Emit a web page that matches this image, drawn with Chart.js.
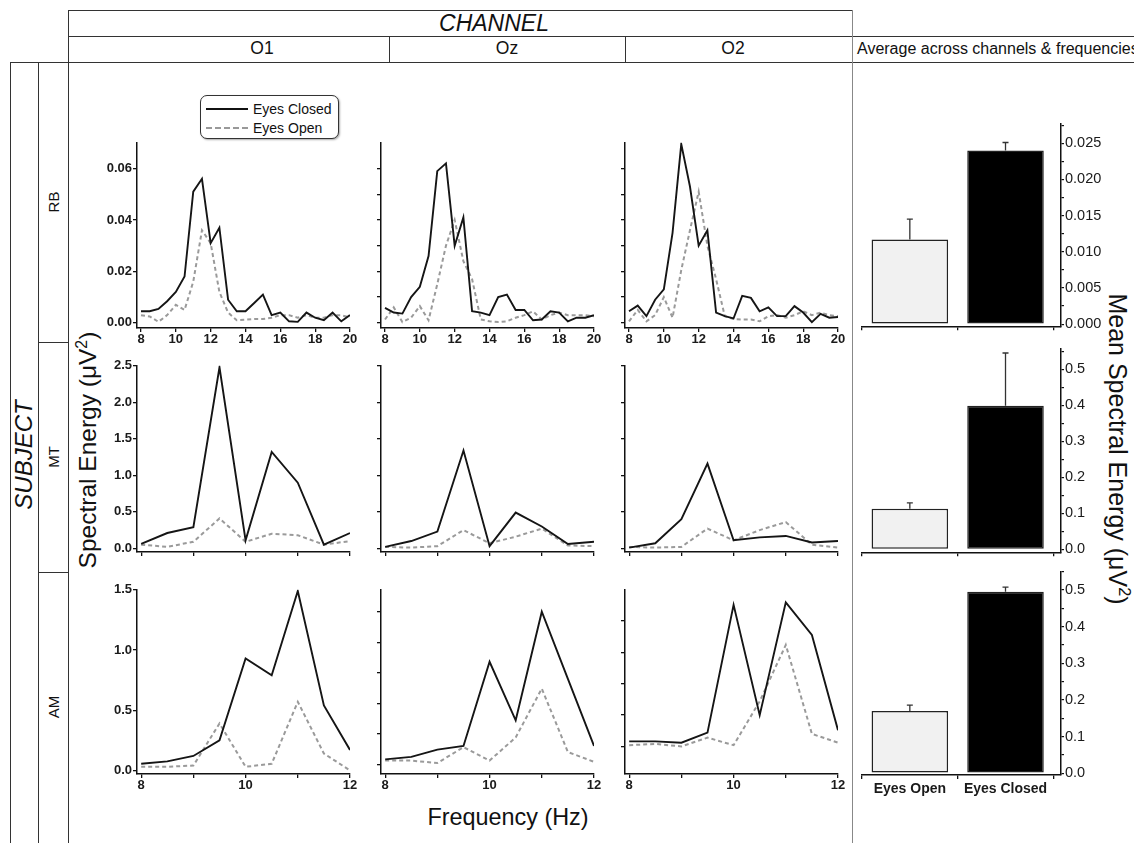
<!DOCTYPE html>
<html>
<head>
<meta charset="utf-8">
<script src="https://cdn.jsdelivr.net/npm/chart.js@4.4.1/dist/chart.umd.min.js"></script>
<style>
  body { margin: 0; background: #fff; }
  #fig { position: relative; width: 1134px; height: 843px; overflow: hidden;
         font-family: "Liberation Sans", Arial, sans-serif; color: #111; background: #fff; }
  .ln { position: absolute; }
  .txt { position: absolute; white-space: nowrap; line-height: 1; }
  canvas { position: absolute; }
  #legend { position: absolute; left: 200px; top: 95px; width: 137px; height: 42px;
            border: 1px solid #333; border-radius: 7px; box-shadow: 1px 1px 2px #aaa;
            font-size: 14px; background: #fff; }
  #legend .row { position: absolute; left: 5px; height: 16px; }
  #legend .smp { position: absolute; left: 0; top: 8px; width: 42px; }
  #legend .lab { position: absolute; left: 47px; top: 1px; white-space: nowrap; }
</style>
</head>
<body>
<div id="fig">
  <div id="legend">
    <div class="row" style="top:4px"><div class="smp" style="border-top:2px solid #111"></div><span class="lab">Eyes Closed</span></div>
    <div class="row" style="top:23px"><div class="smp" style="border-top:2px dashed #999"></div><span class="lab">Eyes Open</span></div>
  </div>
</div>
<script>
// frequencies (Hz)
const rbFreq = [8, 8.5, 9, 9.5, 10, 10.5, 11, 11.5, 12, 12.5, 13, 13.5, 14, 14.5, 15, 15.5, 16, 16.5, 17, 17.5, 18, 18.5, 19, 19.5, 20];
const lowFreq = [8, 8.5, 9, 9.5, 10, 10.5, 11, 11.5, 12];

// subject RB
const rbO1Closed = [0.0045, 0.0045, 0.0054, 0.0084, 0.012, 0.018, 0.051, 0.056, 0.031, 0.037, 0.009, 0.0045, 0.0045, 0.0077, 0.011, 0.003, 0.004, 0.0006, 0.0004, 0.004, 0.002, 0.001, 0.004, 0.0006, 0.003];
const rbO1Open = [0.003, 0.0025, 0.0004, 0.003, 0.007, 0.005, 0.016, 0.036, 0.031, 0.012, 0.004, 0.001, 0.0012, 0.0015, 0.0015, 0.002, 0.003, 0.003, 0.002, 0.003, 0.002, 0.002, 0.003, 0.003, 0.002];
const rbOzClosed = [0.0058, 0.004, 0.0036, 0.010, 0.014, 0.026, 0.059, 0.062, 0.030, 0.041, 0.0045, 0.004, 0.003, 0.010, 0.011, 0.005, 0.005, 0.001, 0.0013, 0.0045, 0.004, 0.0006, 0.002, 0.002, 0.003];
const rbOzOpen = [0.0013, 0.006, 0.0003, 0.002, 0.0065, 0.001, 0.015, 0.030, 0.040, 0.024, 0.017, 0.0013, 0.0006, 0.0003, 0.0006, 0.002, 0.003, 0.0045, 0.0013, 0.003, 0.004, 0.003, 0.003, 0.003, 0.0026];
const rbO2Closed = [0.0045, 0.0067, 0.0026, 0.009, 0.013, 0.035, 0.0695, 0.053, 0.030, 0.036, 0.004, 0.0026, 0.0017, 0.0105, 0.0097, 0.0045, 0.006, 0.0026, 0.0026, 0.0065, 0.004, 0.0003, 0.0035, 0.002, 0.0023];
const rbO2Open = [0.0006, 0.005, 0.0006, 0.003, 0.010, 0.002, 0.0205, 0.036, 0.051, 0.030, 0.017, 0.0026, 0.0015, 0.0013, 0.0013, 0.0006, 0.0026, 0.003, 0.002, 0.003, 0.0045, 0.003, 0.004, 0.003, 0.0026];

// subject MT
const mtO1Closed = [0.06, 0.21, 0.29, 2.48, 0.11, 1.32, 0.90, 0.05, 0.21];
const mtO1Open = [0.05, 0.02, 0.09, 0.41, 0.09, 0.20, 0.18, 0.05, 0.10];
const mtOzClosed = [0.02, 0.10, 0.23, 1.34, 0.03, 0.49, 0.30, 0.06, 0.09];
const mtOzOpen = [0.02, 0.01, 0.03, 0.25, 0.07, 0.16, 0.27, 0.04, 0.03];
const mtO2Closed = [0.01, 0.07, 0.40, 1.16, 0.11, 0.15, 0.17, 0.08, 0.10];
const mtO2Open = [0.02, 0.01, 0.02, 0.27, 0.11, 0.25, 0.36, 0.05, 0.01];

// subject AM
const amO1Closed = [0.055, 0.075, 0.12, 0.25, 0.93, 0.79, 1.49, 0.54, 0.17];
const amO1Open = [0.03, 0.03, 0.04, 0.39, 0.03, 0.055, 0.57, 0.14, 0.0];
const amOzClosed = [0.04, 0.06, 0.12, 0.15, 0.84, 0.36, 1.25, 0.70, 0.15];
const amOzOpen = [0.03, 0.03, 0.01, 0.14, 0.03, 0.22, 0.62, 0.10, 0.02];
const amO2Closed = [0.04, 0.04, 0.03, 0.11, 1.13, 0.25, 1.15, 0.89, 0.13];
const amO2Open = [0.01, 0.02, 0.0, 0.07, 0.01, 0.36, 0.81, 0.10, 0.03];

// averages across channels & frequencies
const barGroups = ['Eyes Open', 'Eyes Closed'];
const rbMeans = [0.0117, 0.0240];
const rbErr = [0.0028, 0.0011];
const mtMeans = [0.113, 0.399];
const mtErr = [0.016, 0.146];
const amMeans = [0.170, 0.495];
const amErr = [0.016, 0.013];

// ticks
const rbXTicks = [8, 10, 12, 14, 16, 18, 20];
const lowXTicks = [8, 9, 10, 11, 12];
const amXLabels = [8, 10, 12];
const rbYTicksO1 = [0, 0.02, 0.04, 0.06];
const rbYTicks = [0, 0.01, 0.02, 0.03, 0.04, 0.05, 0.06];
const mtYTicks = [0, 0.5, 1, 1.5, 2, 2.5];
const amYTicksO1 = [0, 0.5, 1, 1.5];
const amYTicksOz = [0, 0.25, 0.5, 0.75, 1, 1.25];
const amYTicksO2 = [0, 0.25, 0.5, 0.75, 1];
const barRbTicks = [0, 0.0025, 0.005, 0.0075, 0.01, 0.0125, 0.015, 0.0175, 0.02, 0.0225, 0.025, 0.0275];
const barRbMajor = [0, 0.005, 0.01, 0.015, 0.02, 0.025];
const barTicks = [0, 0.05, 0.1, 0.15, 0.2, 0.25, 0.3, 0.35, 0.4, 0.45, 0.5, 0.55];
const barMajor = [0, 0.1, 0.2, 0.3, 0.4, 0.5];

Chart.defaults.font.family = '"Liberation Sans", Arial, sans-serif';
Chart.defaults.color = '#1a1a1a';

const fig = document.getElementById('fig');

function rect(x, y, w, h, c) {
    const d = document.createElement('div');
    d.className = 'ln';
    d.style.cssText = `left:${x}px;top:${y}px;width:${w}px;height:${h}px;background:${c};`;
    fig.appendChild(d);
}
function hline(x1, x2, y, c = '#333') { rect(x1, y, x2 - x1, 1, c); }
function vline(x, y1, y2, c = '#333') { rect(x, y1, 1, y2 - y1, c); }

function text(html, x, y, size, rot = 0, style = '') {
    const d = document.createElement('div');
    d.className = 'txt';
    d.innerHTML = html;
    d.style.cssText = `left:${x}px;top:${y}px;font-size:${size}px;transform:translate(-50%,-50%) rotate(${rot}deg);${style}`;
    fig.appendChild(d);
}

// frame
hline(68, 852, 10);
hline(68, 1134, 36);
hline(10, 1134, 62);
vline(68, 10, 843);
vline(852, 10, 843, '#888');
vline(389, 36, 62);
vline(625, 36, 62);
vline(10, 62, 843);
vline(38, 62, 843);
hline(38, 68, 342);
hline(38, 68, 572);

text('CHANNEL', 494, 23, 23, 0, 'font-style:italic;');
text('O1', 262, 49, 17.5);
text('Oz', 507, 49, 17.5);
text('O2', 733, 49, 17.5);
text('Average across channels &amp; frequencies', 857, 49, 16, 0, 'transform:translate(0,-50%);');
text('SUBJECT', 24, 455, 24, -90, 'font-style:italic;');
text('RB', 53, 202, 15, -90);
text('MT', 53, 457, 15, -90);
text('AM', 53, 707, 15, -90);
text('Spectral Energy (&mu;V<sup style="font-size:0.65em">2</sup>)', 87, 450, 24.5, -90);
text('Frequency (Hz)', 508, 818, 23.4);
text('Mean Spectral Energy (&mu;V<sup style="font-size:0.65em">2</sup>)', 1119, 449, 25, 90);

function makeCanvas(x, y, w, h) {
    const c = document.createElement('canvas');
    c.width = w; c.height = h;
    c.style.left = x + 'px'; c.style.top = y + 'px';
    c.style.width = w + 'px'; c.style.height = h + 'px';
    fig.appendChild(c);
    return c;
}

const tickFont = { size: 13, weight: 'bold' };

function linePanel(p) {
    const yW = 38, xH = 20, padT = 8, padR = 12;
    const cv = makeCanvas(p.left - yW, p.top - padT, p.w + yW + padR, p.h + xH + padT);
    new Chart(cv, {
        type: 'line',
        data: {
            datasets: [{
                label: 'Eyes Closed',
                data: p.freq.map((f, i) => ({ x: f, y: p.closed[i] })),
                borderColor: '#151515', borderWidth: 1.9, pointRadius: 0, tension: 0,
            }, {
                label: 'Eyes Open',
                data: p.freq.map((f, i) => ({ x: f, y: p.open[i] })),
                borderColor: '#9a9a9a', borderWidth: 2, borderDash: [4, 3], pointRadius: 0, tension: 0,
            }]
        },
        options: {
            responsive: false, animation: false, events: [],
            layout: { padding: { left: 0, right: padR, top: padT, bottom: 0 } },
            plugins: { legend: { display: false }, tooltip: { enabled: false } },
            scales: {
                x: {
                    type: 'linear', min: p.xMin, max: p.xMax,
                    afterBuildTicks: s => { s.ticks = p.xTicks.map(v => ({ value: v })); },
                    afterFit: s => { s.height = xH; },
                    ticks: { autoSkip: false, maxRotation: 0, padding: 0, font: tickFont,
                             callback: v => p.xLabels.includes(v) ? String(v) : '' },
                    grid: { drawOnChartArea: false, tickLength: 4, color: '#111', lineWidth: 1.3 },
                    border: { color: '#111', width: 1.5 },
                },
                y: {
                    min: p.yMin, max: p.yMax,
                    afterBuildTicks: s => { s.ticks = p.yTicks.map(v => ({ value: v })); },
                    afterFit: s => { s.width = yW; },
                    ticks: { autoSkip: false, padding: 1, font: tickFont,
                             callback: v => p.yLabels ? v.toFixed(p.digits) : '' },
                    grid: { drawOnChartArea: false, tickLength: 4, color: '#111', lineWidth: 1.3 },
                    border: { color: '#111', width: 1.5 },
                }
            }
        }
    });
}

const colLeft = [137, 381, 625];
const panelW = 213;

const rows = [
    { top: 142, h: 186, freq: rbFreq, xMin: 7.77, xMax: 20, xTicks: rbXTicks, xLabels: rbXTicks, digits: 2,
      panels: [
        { closed: rbO1Closed, open: rbO1Open, yMin: -0.002, yMax: 0.07, yTicks: rbYTicksO1, yLabels: true },
        { closed: rbOzClosed, open: rbOzOpen, yMin: -0.002, yMax: 0.07, yTicks: rbYTicks, yLabels: false },
        { closed: rbO2Closed, open: rbO2Open, yMin: -0.002, yMax: 0.07, yTicks: rbYTicks, yLabels: false },
      ] },
    { top: 365, h: 187, freq: lowFreq, xMin: 7.92, xMax: 12, xTicks: lowXTicks, xLabels: [], digits: 1,
      panels: [
        { closed: mtO1Closed, open: mtO1Open, yMin: -0.05, yMax: 2.5, yTicks: mtYTicks, yLabels: true },
        { closed: mtOzClosed, open: mtOzOpen, yMin: -0.05, yMax: 2.5, yTicks: mtYTicks, yLabels: false },
        { closed: mtO2Closed, open: mtO2Open, yMin: -0.05, yMax: 2.5, yTicks: mtYTicks, yLabels: false },
      ] },
    { top: 589, h: 185, freq: lowFreq, xMin: 7.92, xMax: 12, xTicks: lowXTicks, xLabels: amXLabels, digits: 1,
      panels: [
        { closed: amO1Closed, open: amO1Open, yMin: -0.03, yMax: 1.5, yTicks: amYTicksO1, yLabels: true },
        { closed: amOzClosed, open: amOzOpen, yMin: -0.08, yMax: 1.43, yTicks: amYTicksOz, yLabels: false },
        { closed: amO2Closed, open: amO2Open, yMin: -0.22, yMax: 1.25, yTicks: amYTicksO2, yLabels: false },
      ] },
];

rows.forEach(r => {
    r.panels.forEach((p, i) => {
        linePanel(Object.assign({}, p, {
            left: colLeft[i], w: panelW, top: r.top, h: r.h, freq: r.freq,
            xMin: r.xMin, xMax: r.xMax, xTicks: r.xTicks, xLabels: r.xLabels, digits: r.digits,
        }));
    });
});

function barPanel(p) {
    const yW = 48, padT = 8, padL = 6;
    const cv = makeCanvas(p.left - padL, p.top - padT, padL + p.w + yW, padT + p.h + p.xH);
    const errorBars = {
        id: 'errorBars',
        afterDatasetsDraw(chart) {
            const meta = chart.getDatasetMeta(0);
            const ys = chart.scales.y;
            const ctx = chart.ctx;
            ctx.save();
            ctx.strokeStyle = '#333';
            ctx.lineWidth = 1.3;
            meta.data.forEach((bar, i) => {
                const top = ys.getPixelForValue(p.means[i] + p.errs[i]);
                ctx.beginPath();
                ctx.moveTo(bar.x, bar.y);
                ctx.lineTo(bar.x, top);
                ctx.moveTo(bar.x - 3, top);
                ctx.lineTo(bar.x + 3, top);
                ctx.stroke();
            });
            ctx.restore();
        }
    };
    new Chart(cv, {
        type: 'bar',
        data: {
            datasets: [{
                data: p.means.map((m, i) => ({ x: i, y: m })),
                backgroundColor: ['#f1f1f1', '#000'],
                borderColor: '#222', borderWidth: 1.5, borderSkipped: false,
                barPercentage: 0.8, categoryPercentage: 1,
            }]
        },
        options: {
            responsive: false, animation: false, events: [],
            layout: { padding: { left: padL, right: 0, top: padT, bottom: 0 } },
            plugins: { legend: { display: false }, tooltip: { enabled: false } },
            scales: {
                x: {
                    type: 'linear', min: -0.5, max: 1.58, offset: false,
                    afterBuildTicks: s => { s.ticks = [0, 1].map(v => ({ value: v })); },
                    afterFit: s => { s.height = p.xH; },
                    ticks: { autoSkip: false, maxRotation: 0, padding: 2, font: { size: 14, weight: 'bold' },
                             callback: v => p.showX ? barGroups[v] : '' },
                    grid: { drawOnChartArea: false, tickLength: 4, color: '#111', lineWidth: 1.3 },
                    border: { color: '#111', width: 1.5 },
                },
                y: {
                    position: 'right', min: p.yMin, max: p.yMax,
                    afterBuildTicks: s => { s.ticks = p.yTicks.map(v => ({ value: v })); },
                    afterFit: s => { s.width = yW; },
                    ticks: { autoSkip: false, padding: 1, font: { size: 14.5 },
                             callback: v => p.major.includes(v) ? v.toFixed(p.digits) : '' },
                    grid: { drawOnChartArea: false, tickLength: 3, color: '#111', lineWidth: 1.2 },
                    border: { color: '#111', width: 1.5 },
                }
            }
        },
        plugins: [errorBars]
    });
}

barPanel({ left: 862, w: 199, top: 122, h: 208, xH: 6, showX: false, means: rbMeans, errs: rbErr,
           yMin: -0.0003, yMax: 0.0277, yTicks: barRbTicks, major: barRbMajor, digits: 3 });
barPanel({ left: 862, w: 199, top: 347, h: 209, xH: 6, showX: false, means: mtMeans, errs: mtErr,
           yMin: -0.008, yMax: 0.557, yTicks: barTicks, major: barMajor, digits: 1 });
barPanel({ left: 862, w: 199, top: 570, h: 205, xH: 26, showX: true, means: amMeans, errs: amErr,
           yMin: -0.005, yMax: 0.55, yTicks: barTicks, major: barMajor, digits: 1 });
</script>
</body>
</html>
